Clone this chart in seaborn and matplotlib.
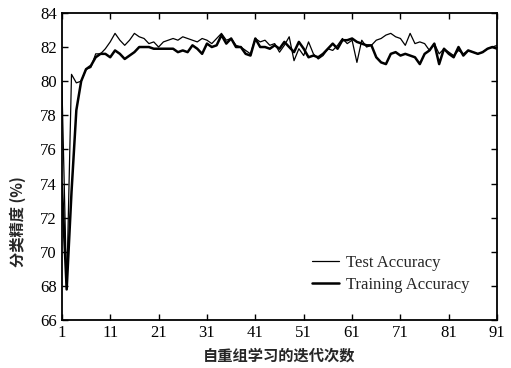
import pandas as pd
import seaborn as sns
import matplotlib
matplotlib.use("Agg")
import matplotlib.pyplot as plt
import numpy as np

# 1. Data
iterations = list(range(1, 92))
test_acc = [80.0, 67.8, 80.4, 79.9, 80.0, 80.7, 80.8, 81.6, 81.6, 81.9,
            82.3, 82.8, 82.4, 82.1, 82.4, 82.8, 82.6, 82.5, 82.2, 82.3,
            82.0, 82.3, 82.4, 82.5, 82.4, 82.6, 82.5, 82.4, 82.3, 82.5,
            82.4, 82.2, 82.5, 82.8, 82.4, 82.5, 82.1, 82.0, 81.8, 81.6,
            82.5, 82.3, 82.4, 82.1, 82.2, 81.7, 82.1, 82.6, 81.2, 81.9,
            81.5, 82.3, 81.6, 81.3, 81.5, 81.9, 81.8, 82.1, 82.5, 82.2,
            82.4, 81.1, 82.4, 82.0, 82.1, 82.4, 82.5, 82.7, 82.8, 82.6,
            82.5, 82.1, 82.8, 82.2, 82.3, 82.2, 81.8, 82.2, 81.6, 81.9,
            81.7, 81.5, 81.8, 81.6, 81.8, 81.7, 81.6, 81.7, 81.9, 82.0,
            82.1]
train_acc = [74.0, 67.8, 73.5, 78.3, 80.0, 80.7, 80.9, 81.4, 81.6, 81.6,
             81.4, 81.8, 81.6, 81.3, 81.5, 81.7, 82.0, 82.0, 82.0, 81.9,
             81.9, 81.9, 81.9, 81.9, 81.7, 81.8, 81.7, 82.1, 81.9, 81.6,
             82.2, 82.0, 82.1, 82.7, 82.2, 82.5, 82.0, 82.0, 81.6, 81.5,
             82.5, 82.0, 82.0, 81.9, 82.1, 81.9, 82.3, 82.0, 81.7, 82.3,
             81.9, 81.4, 81.5, 81.4, 81.6, 81.9, 82.2, 81.9, 82.4, 82.4,
             82.5, 82.3, 82.2, 82.1, 82.1, 81.4, 81.1, 81.0, 81.6, 81.7,
             81.5, 81.6, 81.5, 81.4, 81.0, 81.6, 81.8, 82.2, 81.0, 81.9,
             81.6, 81.4, 82.0, 81.5, 81.8, 81.7, 81.6, 81.7, 81.9, 82.0,
             81.9]
x_ticks = [1, 11, 21, 31, 41, 51, 61, 71, 81, 91]
y_ticks = [66, 68, 70, 72, 74, 76, 78, 80, 82, 84]

df = pd.DataFrame({"iter": iterations, "Test Accuracy": test_acc,
                   "Training Accuracy": train_acc})

# 2. Style
sns.set_style("ticks")
plt.rcParams["font.family"] = ["Liberation Serif", "Noto Sans CJK SC"]
plt.rcParams["xtick.direction"] = "in"
plt.rcParams["ytick.direction"] = "in"

# 3. Plot
fig = plt.figure(figsize=(5.11, 3.68), dpi=100)
ax = fig.add_axes([0.121, 0.130, 0.852, 0.835])
sns.lineplot(data=df, x="iter", y="Test Accuracy", ax=ax, color="black",
             linewidth=0.9, label="Test Accuracy")
sns.lineplot(data=df, x="iter", y="Training Accuracy", ax=ax, color="black",
             linewidth=1.8, label="Training Accuracy")

ax.set_xlim(1, 91)
ax.set_ylim(66, 84)
ax.set_xticks(x_ticks)
ax.set_yticks(y_ticks)
ax.tick_params(axis="both", which="both", top=True, right=True,
               length=4, width=1, labelsize=12, colors="black")
for s in ax.spines.values():
    s.set_linewidth(1.3)
    s.set_color("black")

ax.set_xlabel("自重组学习的迭代次数", fontsize=11, fontweight="bold",
              family="Noto Sans CJK SC", labelpad=5)
ax.set_ylabel("分类精度 (%)", fontsize=11, fontweight="bold",
              family="Noto Sans CJK SC")
ax.yaxis.set_label_coords(-0.082, 0.32)

ax.legend(loc="lower right", frameon=False, fontsize=12, handlelength=1.6,
          handletextpad=0.4, labelspacing=0.35, bbox_to_anchor=(0.97, 0.04))

fig.savefig("out.png", dpi=100)
